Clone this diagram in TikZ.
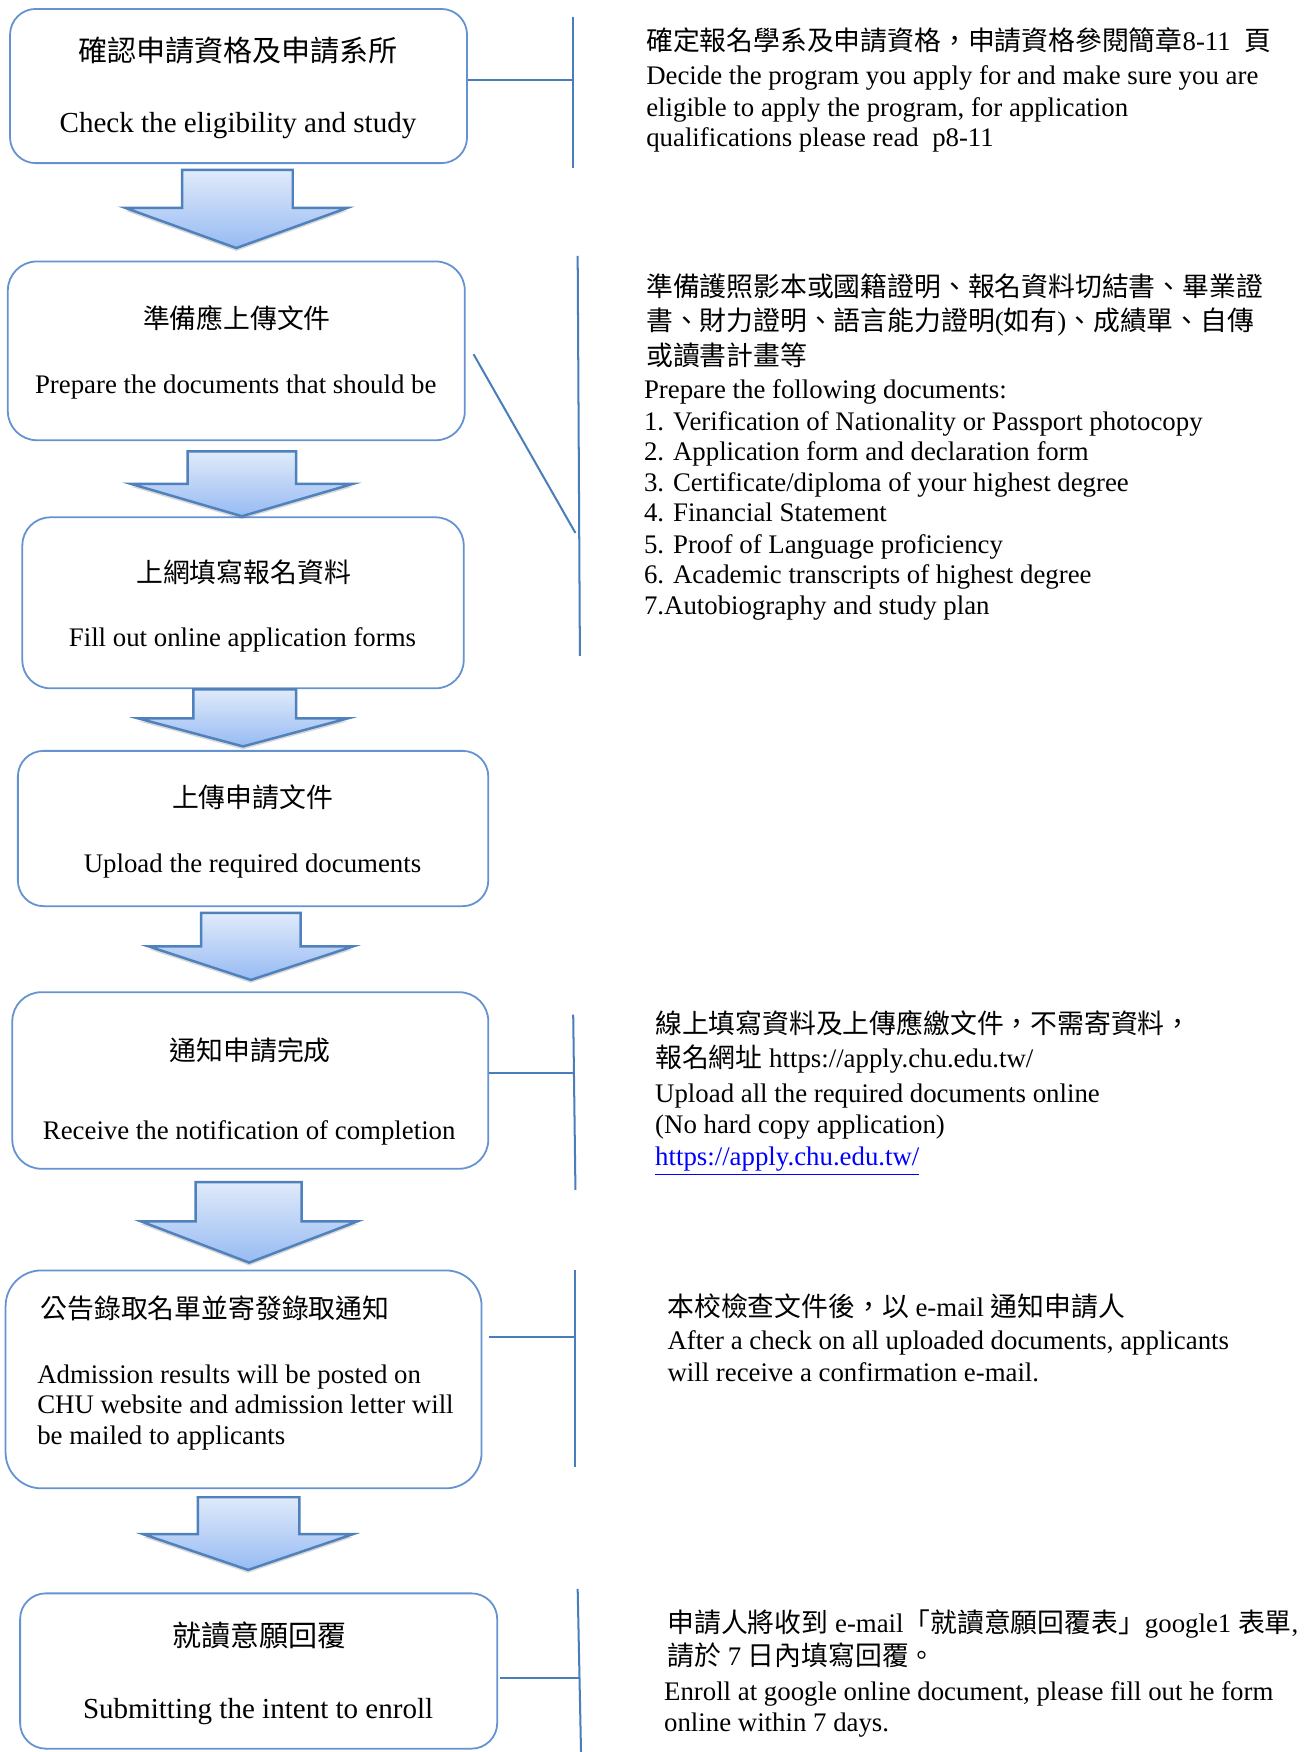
\documentclass[tikz,border=0pt]{standalone}
\usepackage{fontspec}
\setmainfont{Liberation Serif}
\newfontfamily\cjk{Noto Sans CJK TC}
\usetikzlibrary{shadows}
\definecolor{boxline}{HTML}{6592D0}
\definecolor{connline}{HTML}{4A7EBB}
\definecolor{arrtop}{HTML}{E0EAFA}
\definecolor{arrbot}{HTML}{97BBF3}
\definecolor{arrline}{HTML}{4F81BD}
\definecolor{linkblue}{HTML}{0000FF}
\newcommand\zh[1]{{\cjk #1}}
\newcommand\flowarrow[7]{%
  \path[arrowshape] (#1,#3) -- (#2,#3) -- (#2,#4) -- (#6,#4) -- ({(#5+#6)/2},#7) -- (#5,#4) -- (#1,#4) -- cycle;}
\begin{document}
\begin{tikzpicture}[x=0.5pt,y=-0.5pt,
  stepbox/.style={draw=boxline, line width=0.8pt, inner sep=0pt},
  conn/.style={draw=connline, line width=0.9pt},
  arrowshape/.style={draw=arrline, line width=1.1pt, line join=miter, top color=arrtop, bottom color=arrbot,
    drop shadow={shadow xshift=0pt, shadow yshift=-1.3pt, opacity=0.22, fill=black!70}},
  ctext/.style={anchor=base, inner sep=0pt, font=\fontsize{12}{14}\selectfont},
  bigtext/.style={anchor=base, inner sep=0pt, font=\fontsize{13}{15}\selectfont},
  ltext/.style={anchor=base west, inner sep=0pt, font=\fontsize{12}{14}\selectfont}]
\useasboundingbox (0,0) rectangle (1173,1568);
\fill[white] (0,0) rectangle (1173,1568);

% ---------- boxes ----------
\node[stepbox, minimum width=204.5pt, minimum height=69pt, rounded corners=11.5pt] (b1) at (213.5,77) {};
\node[stepbox, minimum width=204.5pt, minimum height=80pt, rounded corners=13pt] (b2) at (211.5,314) {};
\node[stepbox, minimum width=197.5pt, minimum height=76.5pt, rounded corners=12.5pt] (b3) at (217.5,539.5) {};
\node[stepbox, minimum width=210.5pt, minimum height=69.5pt, rounded corners=11.5pt] (b4) at (226.5,741.5) {};
\node[stepbox, minimum width=213pt, minimum height=79pt, rounded corners=13pt] (b5) at (224,967) {};
\node[stepbox, minimum width=213pt, minimum height=97.5pt, rounded corners=16pt] (b6) at (218,1234.5) {};
\node[stepbox, minimum width=213.5pt, minimum height=69.5pt, rounded corners=11.5pt] (b7) at (231.5,1495.5) {};

% ---------- box texts ----------
\node[bigtext] (t1a) at (213,55) {\zh{確認申請資格及申請系所}};
\node[bigtext] (t1b) at (213,119) {Check the eligibility and study};
\node[ctext] (t2a) at (212,294) {\zh{準備應上傳文件}};
\node[ctext] (t2b) at (211,352) {Prepare the documents that should be};
\node[ctext] (t3a) at (218,521) {\zh{上網填寫報名資料}};
\node[ctext] (t3b) at (217,579) {Fill out online application forms};
\node[ctext] (t4a) at (226,723) {\zh{上傳申請文件}};
\node[ctext] (t4b) at (226,781) {Upload the required documents};
\node[ctext] (t5a) at (224,949) {\zh{通知申請完成}};
\node[ctext] (t5b) at (223,1020) {Receive the notification of completion};
\node[ltext] (t6a) at (36,1180) {\zh{公告錄取名單並寄發錄取通知}};
\node[ltext] (t6b) at (33,1238) {Admission results will be posted on};
\node[ltext] (t6c) at (33,1265) {CHU website and admission letter will};
\node[ltext] (t6d) at (33,1293) {be mailed to applicants};
\node[bigtext] (t7a) at (232,1474) {\zh{就讀意願回覆}};
\node[bigtext] (t7b) at (231,1538) {Submitting the intent to enroll};

% ---------- block arrows ----------
\flowarrow{163}{262}{152}{186}{112}{311}{222}
\flowarrow{168}{265}{404}{433}{117}{316}{462}
\flowarrow{173}{265}{617}{643}{124}{311}{668}
\flowarrow{180}{269}{817}{847}{133}{316}{877}
\flowarrow{175}{270}{1058}{1093}{126}{320}{1130}
\flowarrow{177}{268}{1340}{1373}{128}{316}{1405}

% ---------- brackets and connectors ----------
\coordinate (v1t) at (513,15);  \coordinate (v1b) at (513,150);
\coordinate (v2t) at (517,229); \coordinate (v2b) at (519,587);
\coordinate (v3t) at (513,908); \coordinate (v3b) at (515,1065);
\coordinate (v4t) at (515,1137); \coordinate (v4b) at (515,1313);
\coordinate (v5t) at (517,1422); \coordinate (v5b) at (520,1568);
\coordinate (d2e) at (515,477);
\coordinate (c4s) at (438,1197); \coordinate (c4e) at (515,1197);
\coordinate (c5e) at (518.5,1502);
\draw[conn] (v1t) -- (v1b);
\draw[conn] (v2t) -- (v2b);
\draw[conn] (v3t) -- (v3b);
\draw[conn] (v4t) -- (v4b);
\draw[conn] (v5t) -- (v5b);
\draw[conn] ([yshift=2.5pt]b1.east) -- ([yshift=2.5pt]b1.east -| v1t);
\draw[conn] ([xshift=3.5pt,yshift=-1.5pt]b2.east) -- (d2e);
\draw[conn] ([yshift=3.5pt]b5.east) -- ([yshift=3.5pt]b5.east -| v3b);
\draw[conn] (c4s) -- (c4e);
\draw[conn] ([xshift=1pt,yshift=-3.25pt]b7.east) -- (c5e);

% ---------- right-hand texts ----------
\node[ltext] (r1a) at (578,45) {\zh{確定報名學系及申請資格，申請資格參閱簡章}8-11\ \ \zh{頁}};
\node[ltext] (r1b) at (578,76) {Decide the program you apply for and make sure you are};
\node[ltext] (r1c) at (578,104) {eligible to apply the program, for application};
\node[ltext] (r1d) at (578,131) {qualifications please read\ \ p8-11};

\node[ltext] (r2a) at (578,265) {\zh{準備護照影本或國籍證明、報名資料切結書、畢業證}};
\node[ltext] (r2b) at (578,296) {\zh{書、財力證明、語言能力證明}(\zh{如有})\zh{、成績單、自傳}};
\node[ltext] (r2c) at (578,327) {\zh{或讀書計畫等}};
\node[ltext] (r2d) at (576,357) {Prepare the following documents:};
\node[ltext] (r2e) at (576,385) {1. Verification of Nationality or Passport photocopy};
\node[ltext] (r2f) at (576,412) {2. Application form and declaration form};
\node[ltext] (r2g) at (576,440) {3. Certificate/diploma of your highest degree};
\node[ltext] (r2h) at (576,467) {4. Financial Statement};
\node[ltext] (r2i) at (576,495) {5. Proof of Language proficiency};
\node[ltext] (r2j) at (576,522) {6. Academic transcripts of highest degree};
\node[ltext] (r2k) at (576,550) {7.Autobiography and study plan};

\node[ltext] (r3a) at (586,925) {\zh{線上填寫資料及上傳應繳文件，不需寄資料，}};
\node[ltext] (r3b) at (586,955) {\zh{報名網址} https://apply.chu.edu.tw/};
\node[ltext] (r3c) at (586,987) {Upload all the required documents online};
\node[ltext] (r3d) at (586,1014) {(No hard copy application)};
\node[ltext, text=linkblue] (r3e) at (586,1043) {\underline{https://apply.chu.edu.tw/}};

\node[ltext] (r4a) at (597,1178) {\zh{本校檢查文件後，以} e-mail \zh{通知申請人}};
\node[ltext] (r4b) at (597,1208) {After a check on all uploaded documents, applicants};
\node[ltext] (r4c) at (597,1236) {will receive a confirmation e-mail.};

\node[ltext] (r5a) at (597,1461) {\zh{申請人將收到} e-mail\zh{「就讀意願回覆表」}google1 \zh{表單},};
\node[ltext] (r5b) at (597,1491) {\zh{請於} 7 \zh{日內填寫回覆。}};
\node[ltext] (r5c) at (594,1522) {Enroll at google online document, please fill out he form};
\node[ltext] (r5d) at (594,1550) {online within 7 days.};
\end{tikzpicture}
\end{document}
